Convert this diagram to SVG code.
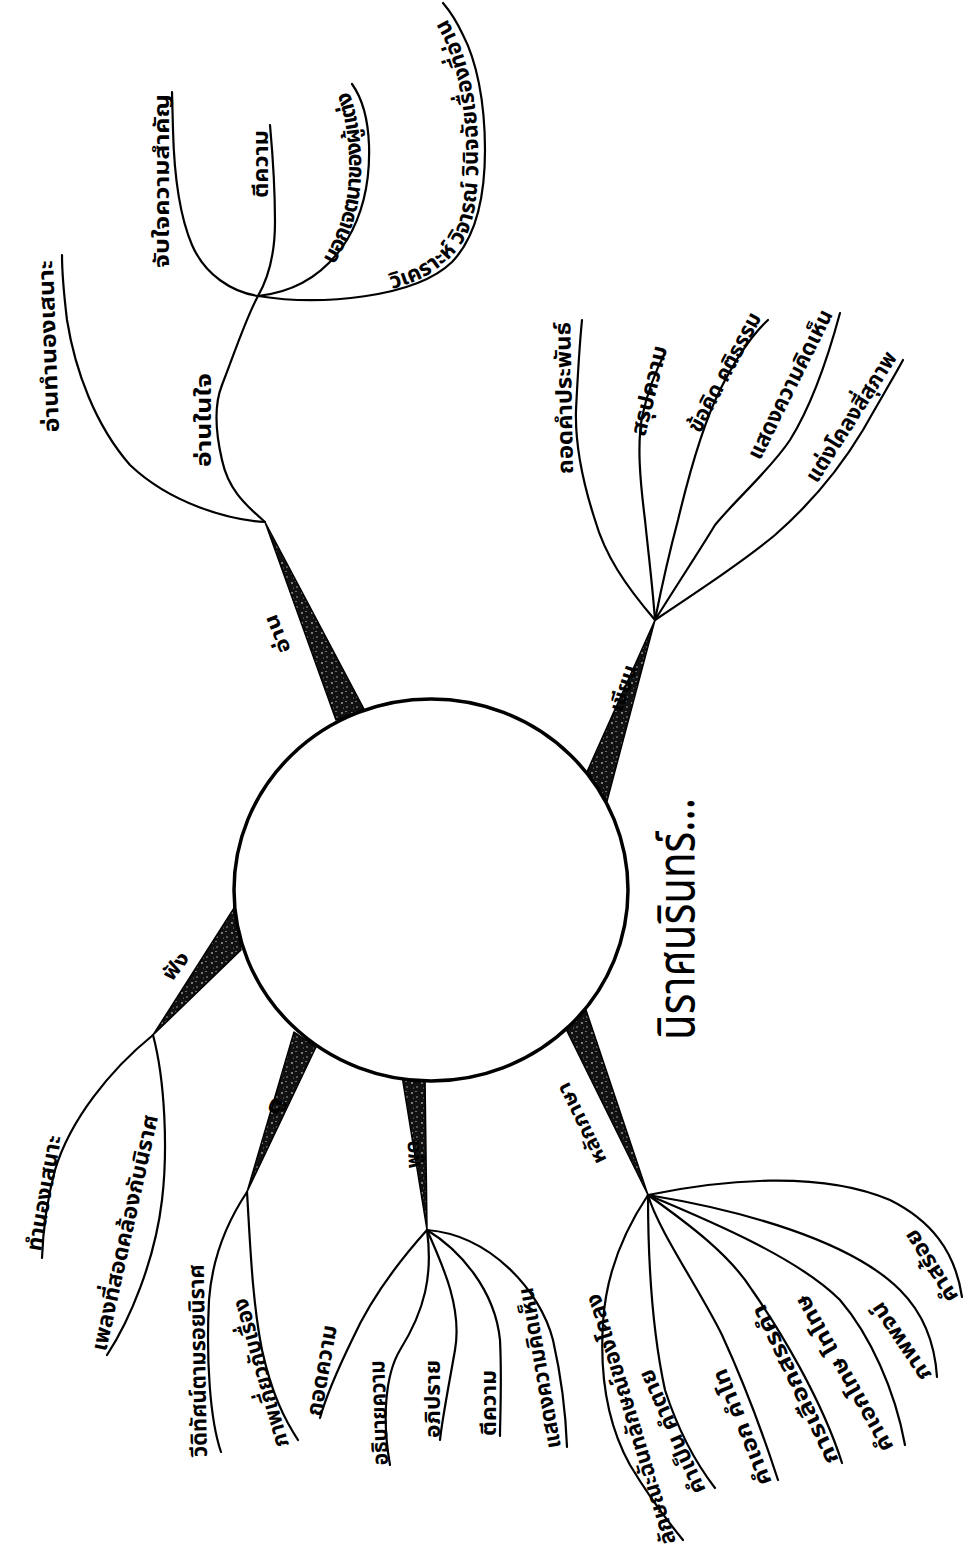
<svg xmlns="http://www.w3.org/2000/svg" width="968" height="1555" viewBox="0 0 968 1555">
<defs>
<style>
.ln{fill:none;stroke:#000;stroke-width:2.2;stroke-linecap:round;stroke-linejoin:round}
.wd{fill:url(#spk);stroke:#000;stroke-width:1.5;stroke-linejoin:round}
.lb{font-family:"Noto Sans Thai","Noto Sans Thai UI","Noto Sans","DejaVu Sans",sans-serif;font-size:22px;font-weight:bold;fill:#000}
.br{font-size:20px}
.tt{font-family:"Noto Sans Thai","Noto Sans Thai UI","Noto Sans","DejaVu Sans",sans-serif;font-size:52px;font-weight:normal;fill:#000}
</style>
<pattern id="spk" width="10" height="10" patternUnits="userSpaceOnUse">
<rect width="10" height="10" fill="#111"/>
<circle cx="2" cy="3" r="0.8" fill="#fff"/>
<circle cx="7" cy="7" r="0.7" fill="#ccc"/>
<circle cx="6" cy="1.5" r="0.5" fill="#fff"/>
<circle cx="3.5" cy="8" r="0.5" fill="#999"/>
</pattern>
<path id="pBok" d="M334,265 C350,238 360,208 361,175 C362,140 357,110 346,84"/>
<path id="pWik" d="M392,289 C428,280 456,260 469,230 C478,205 479,170 478,140 C476,95 466,55 453,30 C447,18 441,9 436,2"/>
</defs>
<rect width="968" height="1555" fill="#fff"/>

<g id="connectors">
<polygon class="wd" points="336,720 364,709 265,522"/>
<polygon class="wd" points="586,774 606,805 655,620"/>
<polygon class="wd" points="236,905 241,950 153,1035"/>
<polygon class="wd" points="294,1032 316,1047 247,1192"/>
<polygon class="wd" points="402,1076 425,1077 427,1230"/>
<polygon class="wd" points="565,1027 586,1010 648,1195"/>
<!-- reading -->
<path class="ln" d="M265,522 C228,520 170,503 130,465 C95,425 75,370 67,320 C64,295 62,275 62,255"/>
<path class="ln" d="M265,522 C243,503 228,488 222,460 C215,430 214,405 222,385 C232,360 245,320 258,296"/>
<path class="ln" d="M258,296 C232,292 205,275 192,245 C178,212 174,170 173,130 L172,92"/>
<path class="ln" d="M258,296 C270,275 275,250 275,222 C275,190 273,158 270,125"/>
<path class="ln" d="M258,296 C295,292 325,275 347,240 C365,210 370,175 369,145 C368,118 362,98 352,84"/>
<path class="ln" d="M258,296 C320,306 415,298 452,262 C478,235 485,190 485,150 C485,100 476,60 463,35 C456,20 449,10 443,3"/>
<!-- writing -->
<path class="ln" d="M655,620 C625,585 605,555 595,520 C582,480 575,445 576,410 C578,370 580,340 582,320"/>
<path class="ln" d="M655,620 C652,580 648,550 645,520 C640,480 637,445 642,417 C648,390 657,368 665,353"/>
<path class="ln" d="M655,620 C662,585 670,550 678,520 C690,470 705,420 720,390 C735,360 752,335 768,320"/>
<path class="ln" d="M655,620 C680,580 700,550 715,525 C740,495 770,470 790,440 C815,400 830,350 840,313"/>
<path class="ln" d="M655,620 C700,590 745,560 775,535 C815,500 845,460 863,430 C880,400 895,375 903,360"/>
<!-- listening -->
<path class="ln" d="M153,1035 C110,1070 70,1120 55,1170 C47,1200 43,1230 42,1258"/>
<path class="ln" d="M153,1035 C165,1080 168,1150 162,1200 C155,1260 130,1320 107,1355"/>
<!-- viewing -->
<path class="ln" d="M247,1192 C225,1225 212,1260 209,1300 C206,1360 210,1420 221,1452"/>
<path class="ln" d="M247,1192 C250,1240 252,1300 262,1350 C272,1395 285,1420 298,1440"/>
<!-- speaking -->
<path class="ln" d="M427,1230 C400,1260 370,1300 352,1340 C335,1375 325,1400 320,1418"/>
<path class="ln" d="M427,1230 C433,1275 425,1310 400,1350 C385,1375 382,1420 390,1465"/>
<path class="ln" d="M427,1230 C445,1270 462,1310 455,1350 C448,1390 442,1420 440,1440"/>
<path class="ln" d="M427,1230 C460,1250 495,1290 500,1340 C502,1380 500,1420 500,1436"/>
<path class="ln" d="M427,1230 C490,1235 540,1290 553,1340 C562,1380 566,1420 567,1447"/>
<!-- grammar -->
<path class="ln" d="M648,1195 C628,1225 606,1270 603,1323 C600,1370 605,1420 630,1465 C648,1495 665,1518 683,1540"/>
<path class="ln" d="M648,1195 C648,1260 652,1330 665,1390 C678,1430 695,1462 715,1488"/>
<path class="ln" d="M648,1195 C658,1230 700,1290 722,1335 C745,1385 765,1440 778,1480"/>
<path class="ln" d="M648,1195 C690,1225 730,1255 752,1290 C780,1330 822,1400 842,1463"/>
<path class="ln" d="M648,1195 C720,1225 800,1260 840,1300 C870,1335 895,1390 905,1445"/>
<path class="ln" d="M648,1195 C740,1210 850,1240 900,1290 C925,1315 935,1345 937,1377"/>
<path class="ln" d="M648,1195 C720,1180 820,1170 890,1200 C930,1220 955,1250 962,1297"/>
</g>

<g id="center">
<ellipse cx="431" cy="890" rx="197" ry="191" fill="#fff" stroke="#000" stroke-width="3.5"/>
</g>
<g id="title">
<text class="tt" transform="translate(694,1040) rotate(-90)" textLength="242" lengthAdjust="spacingAndGlyphs">นิราศนรินทร์...</text>
</g>

<g id="branch-read">
<text class="lb br" transform="translate(291,650) rotate(-112)" textLength="40" lengthAdjust="spacingAndGlyphs">อ่าน</text>
</g>
<g id="node-read-silent"><text class="lb" transform="translate(211,467) rotate(-90)" textLength="94" lengthAdjust="spacingAndGlyphs">อ่านในใจ</text></g>
<g id="node-read-melody"><text class="lb" transform="translate(59,432) rotate(-92)" textLength="172" lengthAdjust="spacingAndGlyphs">อ่านทำนองเสนาะ</text></g>
<g id="node-read-main"><text class="lb" transform="translate(169,268) rotate(-90)" textLength="174" lengthAdjust="spacingAndGlyphs">จับใจความสำคัญ</text></g>
<g id="node-read-interpret"><text class="lb" transform="translate(268,198) rotate(-90)" textLength="68" lengthAdjust="spacingAndGlyphs">ตีความ</text></g>
<g id="node-read-intent"><text class="lb"><textPath href="#pBok" textLength="180" lengthAdjust="spacing">บอกเจตนาของผู้แต่ง</textPath></text></g>
<g id="node-read-analyse"><text class="lb"><textPath href="#pWik" textLength="318" lengthAdjust="spacing">วิเคราะห์ วิจารณ์ วินิจฉัยเรื่องที่อ่าน</textPath></text></g>

<g id="branch-write">
<text class="lb br" transform="translate(622,713) rotate(-72)" textLength="48" lengthAdjust="spacingAndGlyphs">เขียน</text>
</g>
<g id="node-write-1"><text class="lb" transform="translate(573,474) rotate(-91)" textLength="152" lengthAdjust="spacingAndGlyphs">ถอดคำประพันธ์</text></g>
<g id="node-write-2"><text class="lb" transform="translate(645,437) rotate(-76)" textLength="92" lengthAdjust="spacingAndGlyphs">สรุปความ</text></g>
<g id="node-write-3"><text class="lb" transform="translate(700,434) rotate(-62)" textLength="132" lengthAdjust="spacingAndGlyphs">ข้อคิด คติธรรม</text></g>
<g id="node-write-4"><text class="lb" transform="translate(760,461) rotate(-63.5)" textLength="164" lengthAdjust="spacingAndGlyphs">แสดงความคิดเห็น</text></g>
<g id="node-write-5"><text class="lb" transform="translate(817,484) rotate(-57.5)" textLength="150" lengthAdjust="spacingAndGlyphs">แต่งโคลงสี่สุภาพ</text></g>

<g id="branch-listen">
<text class="lb br" transform="translate(172,982) rotate(-52)" textLength="30" lengthAdjust="spacingAndGlyphs">ฟัง</text>
</g>
<g id="node-listen-1"><text class="lb" transform="translate(41,1252) rotate(-80)" textLength="117" lengthAdjust="spacingAndGlyphs">ทำนองเสนาะ</text></g>
<g id="node-listen-2"><text class="lb" transform="translate(106,1352) rotate(-77.5)" textLength="241" lengthAdjust="spacingAndGlyphs">เพลงที่สอดคล้องกับนิราศ</text></g>

<g id="branch-view">
<text class="lb br" transform="translate(277,1116) rotate(-68)" textLength="17" lengthAdjust="spacingAndGlyphs">ดู</text>
</g>
<g id="node-view-1"><text class="lb" transform="translate(207,1457) rotate(-91)" textLength="193" lengthAdjust="spacingAndGlyphs">วีดิทัศน์ตามรอยนิราศ</text></g>
<g id="node-view-2"><text class="lb" transform="translate(289,1445) rotate(-106)" textLength="154" lengthAdjust="spacingAndGlyphs">ภาพเกี่ยวกับเรื่อง</text></g>

<g id="branch-speak">
<text class="lb br" transform="translate(420,1168) rotate(-93)" textLength="28" lengthAdjust="spacingAndGlyphs">พูด</text>
</g>
<g id="node-speak-1"><text class="lb" transform="translate(321,1417) rotate(-80)" textLength="92" lengthAdjust="spacingAndGlyphs">ถอดความ</text></g>
<g id="node-speak-2"><text class="lb" transform="translate(388,1465) rotate(-92)" textLength="105" lengthAdjust="spacingAndGlyphs">อธิบายความ</text></g>
<g id="node-speak-3"><text class="lb" transform="translate(440,1438) rotate(-90)" textLength="78" lengthAdjust="spacingAndGlyphs">อภิปราย</text></g>
<g id="node-speak-4"><text class="lb" transform="translate(496,1436) rotate(-90)" textLength="66" lengthAdjust="spacingAndGlyphs">ตีความ</text></g>
<g id="node-speak-5"><text class="lb" transform="translate(561,1447) rotate(-100)" textLength="163" lengthAdjust="spacingAndGlyphs">แสดงความคิดเห็น</text></g>

<g id="branch-grammar">
<text class="lb br" transform="translate(607,1160) rotate(-116)" textLength="88" lengthAdjust="spacingAndGlyphs">หลักภาษา</text>
</g>
<g id="node-gram-1"><text class="lb" transform="translate(676,1542) rotate(-107)" textLength="261" lengthAdjust="spacingAndGlyphs">ลักษณะฉันทลักษณ์ของโคลง</text></g>
<g id="node-gram-2"><text class="lb" transform="translate(706,1490) rotate(-114)" textLength="134" lengthAdjust="spacingAndGlyphs">คำเป็น คำตาย</text></g>
<g id="node-gram-3"><text class="lb" transform="translate(772,1482) rotate(-112)" textLength="124" lengthAdjust="spacingAndGlyphs">คำเอก คำโท</text></g>
<g id="node-gram-4"><text class="lb" transform="translate(839,1460) rotate(-115.5)" textLength="174" lengthAdjust="spacingAndGlyphs">การเลือกสรรคำ</text></g>
<g id="node-gram-5"><text class="lb" transform="translate(894,1447) rotate(-119.5)" textLength="177" lengthAdjust="spacingAndGlyphs">คำเอกโทษ โทโทษ</text></g>
<g id="node-gram-6"><text class="lb" transform="translate(932,1375) rotate(-124)" textLength="90" lengthAdjust="spacingAndGlyphs">ภาพพจน์</text></g>
<g id="node-gram-7"><text class="lb" transform="translate(959,1297) rotate(-122)" textLength="82" lengthAdjust="spacingAndGlyphs">คำสร้อย</text></g>
</svg>
